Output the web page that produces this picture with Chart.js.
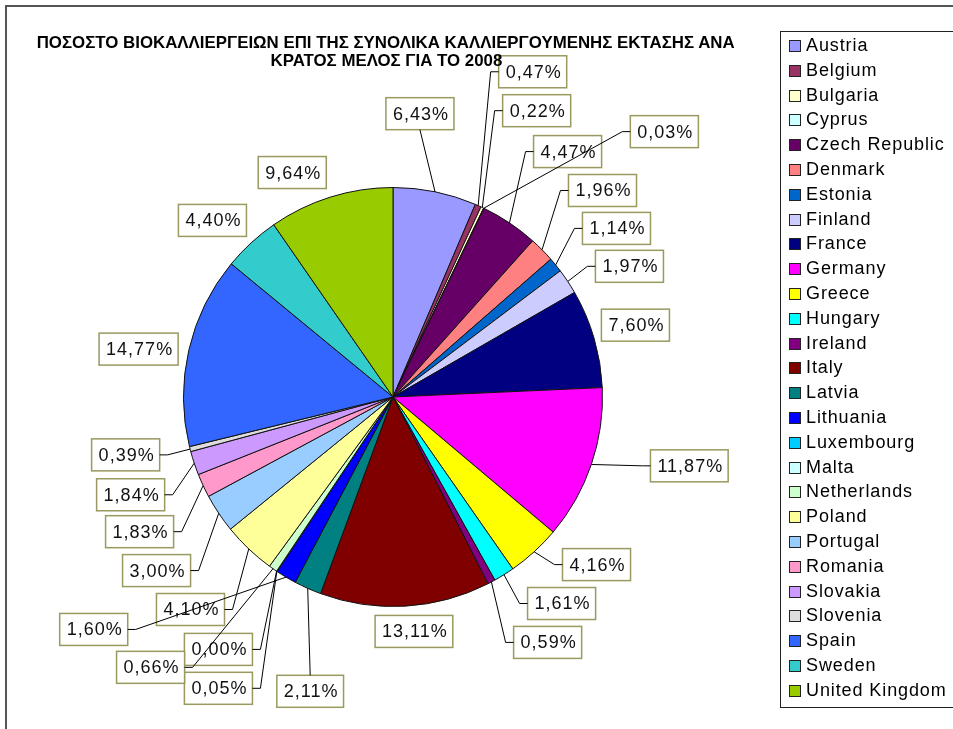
<!DOCTYPE html>
<html>
<head>
<meta charset="utf-8">
<script src="https://cdn.jsdelivr.net/npm/chart.js@4.4.1/dist/chart.umd.min.js"></script>
<style>
  body { margin: 0; background: #fff; }
  #wrap { position: relative; width: 953px; height: 729px; overflow: hidden; background: #fff; }
  #frame { position: absolute; left: 5px; top: 5px; right: -10px; bottom: -10px; border-top: 2px solid #555; border-left: 2px solid #555; }
  #chart { position: absolute; left: 0; top: 0; }
  #title { position: absolute; left: 0; top: 33px; width: 772px; text-align: center; font: bold 16.5px 'Liberation Sans', Arial, sans-serif; line-height: 18px; color: #000; }
  #title span { display: inline-block; white-space: nowrap; transform-origin: 50% 50%; }
  #legend { position: absolute; left: 780px; top: 31px; width: 200px; height: 677px; border: 1px solid #222; box-sizing: border-box; padding-top: 3px; }
  .item { height: 24.8px; line-height: 24.8px; padding-left: 8px; font: 18px 'Liberation Sans', Arial, sans-serif; letter-spacing: 0.9px; color: #000; white-space: nowrap; }
  .mark { display: inline-block; width: 10px; height: 10px; border: 1px solid #222; margin-right: 5px; vertical-align: -1px; }
</style>
</head>
<body>
<div id="wrap">
  <div id="frame"></div>
  <canvas id="chart" width="953" height="729"></canvas>
  <div id="title">
    <div><span>ΠΟΣΟΣΤΟ ΒΙΟΚΑΛΛΙΕΡΓΕΙΩΝ ΕΠΙ ΤΗΣ ΣΥΝΟΛΙΚΑ ΚΑΛΛΙΕΡΓΟΥΜΕΝΗΣ ΕΚΤΑΣΗΣ ΑΝΑ</span></div>
    <div><span>ΚΡΑΤΟΣ ΜΕΛΟΣ ΓΙΑ ΤΟ 2008</span></div>
  </div>
  <div id="legend"></div>
</div>
<script>
const countries = ['Austria', 'Belgium', 'Bulgaria', 'Cyprus', 'Czech Republic', 'Denmark', 'Estonia',
  'Finland', 'France', 'Germany', 'Greece', 'Hungary', 'Ireland', 'Italy', 'Latvia', 'Lithuania',
  'Luxembourg', 'Malta', 'Netherlands', 'Poland', 'Portugal', 'Romania', 'Slovakia', 'Slovenia',
  'Spain', 'Sweden', 'United Kingdom'];

const shares = [6.43, 0.47, 0.22, 0.03, 4.47, 1.96, 1.14,
  1.97, 7.60, 11.87, 4.16, 1.61, 0.59, 13.11, 2.11, 1.60,
  0.05, 0.00, 0.66, 4.10, 3.00, 1.83, 1.84, 0.39,
  14.77, 4.40, 9.64];

const slice_colors = ['#9999ff', '#993366', '#ffffcc', '#ccffff', '#660066', '#ff8080', '#0066cc',
  '#ccccff', '#000080', '#ff00ff', '#ffff00', '#00ffff', '#800080', '#800000', '#008080', '#0000ff',
  '#00ccff', '#ccffff', '#ccffcc', '#ffff99', '#99ccff', '#ff99cc', '#cc99ff', '#dddddd',
  '#3366ff', '#33cccc', '#99cc00'];

// where each callout box sits, relative to the pie centre (for a 210px radius)
const label_offsets = [
  [27, -284], [140, -326], [144, -287], [272, -266], [175, -246], [210, -207], [224, -169],
  [237, -131], [243, -72], [297, 69], [204, 168], [169, 207], [155, 246], [21, 235],
  [-83, 295], [-300, 233], [-175, 292], [-175, 253], [-243, 271], [-203, 213], [-237, 174],
  [-254, 135], [-263, 98], [-268, 58], [-255, -48], [-181, -177], [-101, -225]
];

// title is drawn a bit narrow like the original
const title_spans = document.querySelectorAll('#title span');
const first_width = title_spans[0].getBoundingClientRect().width;
const squeeze = 698 / first_width;
title_spans.forEach(function (s) { s.style.transform = 'scaleX(' + squeeze + ')'; });

const legend = document.getElementById('legend');
for (let i = 0; i < countries.length; i++) {
  const item = document.createElement('div');
  item.setAttribute('class', 'item');
  const mark = document.createElement('span');
  mark.setAttribute('class', 'mark');
  mark.style.background = slice_colors[i];
  item.appendChild(mark);
  item.appendChild(document.createTextNode(countries[i]));
  legend.appendChild(item);
}

function format_share (v) {
  return v.toFixed(2).replace('.', ',') + '%';
}

const callout_labels = {
  id: 'callout_labels',
  afterDatasetsDraw (chart) {
    const ctx = chart.ctx;
    const meta = chart.getDatasetMeta(0);
    const boxes = [];
    ctx.save();
    ctx.font = '18px "Liberation Sans", Arial, sans-serif';
    ctx.letterSpacing = '1px';

    meta.data.forEach(function (arc, i) {
      const r = arc.outerRadius;
      const k = r / 210;
      const mid = (arc.startAngle + arc.endAngle) / 2;
      const text = format_share(shares[i]);
      const w = ctx.measureText(text).width + 12;
      const h = 32;
      const cx = arc.x + label_offsets[i][0] * k;
      const cy = arc.y + label_offsets[i][1] * k;
      boxes.push({
        text: text,
        left: cx - w / 2, right: cx + w / 2, top: cy - h / 2, bottom: cy + h / 2, cx: cx, cy: cy,
        ax: arc.x + Math.cos(mid) * r, ay: arc.y + Math.sin(mid) * r
      });
    });

    boxes.forEach(function (b) {
      ctx.fillStyle = '#fff';
      ctx.fillRect(b.left, b.top, b.right - b.left, b.bottom - b.top);
      ctx.strokeStyle = '#999960';
      ctx.lineWidth = 1.5;
      ctx.strokeRect(b.left, b.top, b.right - b.left, b.bottom - b.top);
      ctx.fillStyle = '#111';
      ctx.textAlign = 'center';
      ctx.textBaseline = 'middle';
      ctx.fillText(b.text, b.cx + 1, b.cy + 1);
    });

    // leader lines, skipped when the box is right at the slice
    ctx.strokeStyle = '#000';
    ctx.lineWidth = 1;
    boxes.forEach(function (b) {
      const dx = Math.max(b.left - b.ax, 0, b.ax - b.right);
      const dy = Math.max(b.top - b.ay, 0, b.ay - b.bottom);
      if (Math.sqrt(dx * dx + dy * dy) < 20) return;
      ctx.beginPath();
      if (b.ax >= b.left && b.ax <= b.right) {
        const y0 = b.ay > b.bottom ? b.bottom : b.top;
        ctx.moveTo(b.cx, y0);
        ctx.lineTo(b.ax, b.ay);
      } else if (b.ax < b.left) {
        ctx.moveTo(b.left, b.cy);
        ctx.lineTo(b.left - 8, b.cy);
        ctx.lineTo(b.ax, b.ay);
      } else {
        ctx.moveTo(b.right, b.cy);
        ctx.lineTo(b.right + 8, b.cy);
        ctx.lineTo(b.ax, b.ay);
      }
      ctx.stroke();
    });
    ctx.restore();
  }
};

const canvas = document.getElementById('chart');
const chart = new Chart(canvas, {
  type: 'pie',
  data: {
    labels: countries,
    datasets: [{
      data: shares,
      backgroundColor: slice_colors,
      borderColor: '#111',
      borderWidth: 1
    }]
  },
  options: {
    responsive: false,
    animation: false,
    layout: { padding: { left: 183, right: 350, top: 187, bottom: 122 } },
    plugins: {
      legend: { display: false },
      title: { display: false },
      tooltip: { enabled: false }
    }
  },
  plugins: [callout_labels]
});
</script>
</body>
</html>
